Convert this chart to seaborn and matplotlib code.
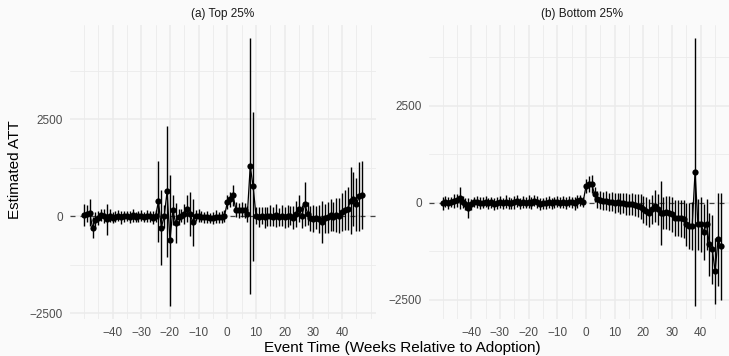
import numpy as np
import pandas as pd
import seaborn as sns
import matplotlib.pyplot as plt
from matplotlib.ticker import FixedLocator

# event time (weeks relative to adoption)
event_time = list(range(-50, 48))

# (a) Top 25% : point estimates and CI half-widths
top_est = [40, 70, 90, -290, -90, -40, 30, 0, -80, 20,
           -40, -10, 20, -30, 0, 10, -20, 30, -10, 0,
           20, -30, 10, 0, -40, 10,
           386, -290, 0, 643, -617, 155, -170,
           -20, 10, 60, 200, 60, -160, 10, 20,
           -10, -30, -20, -50, -40, -10, -30, -20, 0,
           360, 437, 540, 170, 150, 170, 150, 60, 1294, 770,
           20, -20, 10, -30, 0, 20, -10, 30, -20, 10,
           -30, 0, 20, -40, 60, 200, 0, 325, 70, -50,
           -60, -40, -70, -145, -50, -20, 30, -10, 40, 20,
           110, 170, 200, 400, 450, 310, 520, 540]
top_ci = [290, 230, 350, 280, 200, 180, 160, 180, 410, 170,
          140, 150, 130, 160, 140, 120, 150, 170, 130, 140,
          150, 130, 160, 140, 170, 150,
          1040, 980, 300, 1700, 1690, 390, 510,
          200, 170, 260, 360, 570, 610, 140, 170,
          150, 140, 160, 130, 150, 170, 140, 160, 150,
          180, 190, 280, 190, 190, 200, 190, 210, 3300, 1920,
          230, 250, 220, 270, 240, 260, 250, 300, 240, 270,
          260, 280, 250, 300, 330, 340, 290, 570, 300, 320,
          340, 300, 360, 545, 380, 400, 420, 380, 440, 460,
          500, 520, 560, 860, 700, 690, 890, 880]

# (b) Bottom 25%
bot_est = [-20, 30, -10, 20, 40, 60, 130, 20, -30, -130,
           -40, 10, 20, -10, 0, 30, -20, 10, -30, 0,
           20, -10, 30, 0, -20, 10, 40, -10, 20, 0,
           30, -10, 50, 20, -40, -10, 0, 20, -10, 10,
           30, 0, 20, -10, 30, 10, -20, 40, 60, 20,
           430, 490, 475, 215, 85, 60, 40, 50, 20, 30,
           0, 10, -20, -10, -30, -45, -40, -60, -80, -100,
           -170, -215, -260, -170, -85, -170, -260, -260, -250, -260,
           -300, -390, -400, -400, -410, -560, -600, -600, 793, -560,
           -560, -750, -560, -1078, -1207, -1767, -948, -1130]
bot_ci = [170, 150, 160, 140, 180, 170, 285, 150, 160, 260,
          140, 130, 150, 160, 140, 150, 130, 140, 150, 160,
          150, 140, 160, 150, 130, 160, 150, 140, 150, 140,
          160, 150, 140, 150, 160, 140, 150, 160, 140, 150,
          150, 140, 160, 150, 140, 150, 160, 170, 150, 140,
          190, 210, 230, 190, 220, 230, 240, 250, 240, 250,
          260, 250, 270, 260, 280, 270, 290, 280, 300, 320,
          350, 370, 360, 380, 420, 400, 820, 420, 430, 440,
          450, 460, 470, 480, 490, 560, 600, 620, 3450, 650,
          700, 720, 650, 820, 900, 860, 1200, 1390]

panels = ['(a) Top 25%', '(b) Bottom 25%']

frames = []
for name, est, ci in [(panels[0], top_est, top_ci), (panels[1], bot_est, bot_ci)]:
    d = pd.DataFrame({'t': event_time, 'est': est, 'ci': ci})
    d['lo'] = d['est'] - d['ci']
    d['hi'] = d['est'] + d['ci']
    d['panel'] = name
    frames.append(d)
df = pd.concat(frames, ignore_index=True)

sns.set_theme(style='white')
plt.rcParams['font.family'] = ['Liberation Sans', 'DejaVu Sans']

bg = '#FAFAFA'
grid_c = '#EBEBEB'
fig = plt.figure(figsize=(7.29, 3.56), dpi=100, facecolor=bg)

W, H = 729, 356
boxes = [(70, 25, 306, 294), (428.6, 25, 306.2, 294)]

for name, (x0, y0, w, h) in zip(panels, boxes):
    ax = fig.add_axes([x0 / W, 1 - (y0 + h) / H, w / W, h / H], facecolor=bg)
    d = df[df['panel'] == name]

    ax.axhline(0, color='#444444', lw=0.9, ls=(0, (4, 4)), zorder=1)
    ax.vlines(d['t'], d['lo'], d['hi'], color='black', lw=1.0, zorder=2)
    sns.lineplot(data=d, x='t', y='est', ax=ax, color='black', lw=0.9,
                 marker='o', markersize=4.5, markeredgewidth=0, zorder=3)

    lo_all, hi_all = d['lo'].min(), d['hi'].max()
    pad = 0.05 * (hi_all - lo_all)
    ax.set_ylim(lo_all - pad, hi_all + pad)
    ax.set_xlim(-50 - 4.85, 47 + 4.85)

    ax.xaxis.set_major_locator(FixedLocator(list(range(-40, 41, 10))))
    ax.xaxis.set_minor_locator(FixedLocator(list(range(-50, 51, 5))))
    ax.yaxis.set_major_locator(FixedLocator([-2500, 0, 2500]))
    ax.yaxis.set_minor_locator(FixedLocator([-1250, 1250, 3750]))
    ax.grid(which='major', color=grid_c, lw=1.1)
    ax.grid(which='minor', color=grid_c, lw=0.6)
    ax.set_axisbelow(True)
    for s in ax.spines.values():
        s.set_visible(False)
    ax.tick_params(which='both', length=0, labelsize=8.5, labelcolor='#4D4D4D')
    ax.tick_params(axis='x', pad=6)
    ax.tick_params(axis='y', pad=5)
    ax.set_xlabel('')
    ax.set_ylabel('')
    fig.text((x0 + w / 2) / W, 1 - 13.5 / H, name, ha='center', va='center',
             fontsize=8.5, color='#1A1A1A')

fig.text(402 / W, 1 - 348 / H, 'Event Time (Weeks Relative to Adoption)',
         ha='center', va='center', fontsize=11, color='black')
fig.text(15 / W, 1 - 170 / H, 'Estimated ATT', ha='center', va='center',
         rotation=90, fontsize=11, color='black')

fig.savefig('out.png', dpi=100, facecolor=bg)
